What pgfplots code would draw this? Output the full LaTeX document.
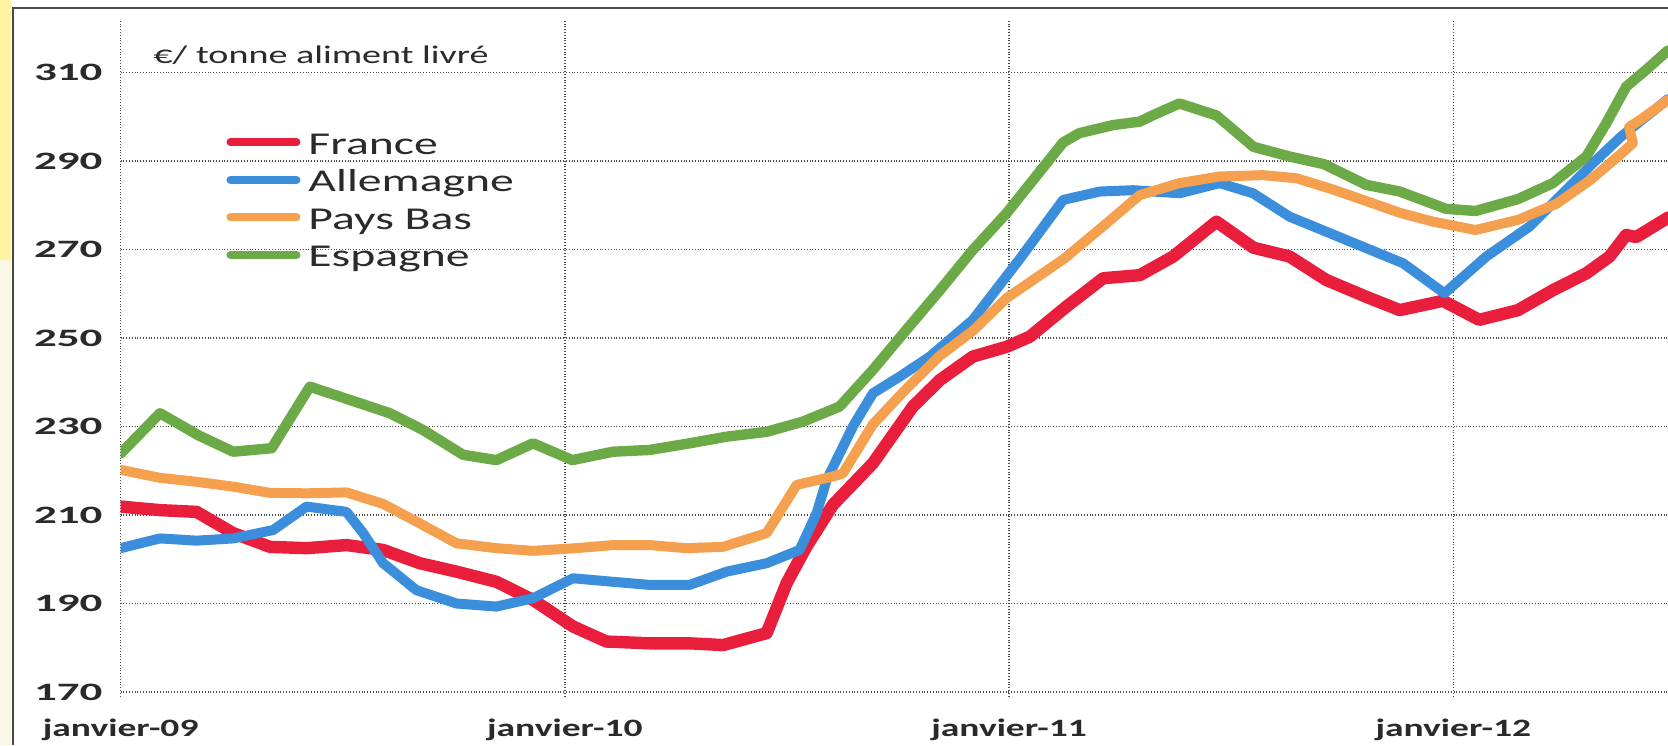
\documentclass[border=0pt]{standalone}
\usepackage{fontspec}
\setmainfont{Carlito}[FakeStretch=1.5]
\newfontfamily\ytickfont{Carlito}[FakeStretch=1.8]
\usepackage{pgfplots}
\pgfplotsset{compat=1.18}
\definecolor{cFR}{HTML}{E81E3C}
\definecolor{cDE}{HTML}{3B8EDB}
\definecolor{cNL}{HTML}{F5A04E}
\definecolor{cES}{HTML}{6BAA46}
\definecolor{gridc}{HTML}{4A4A4A}
\definecolor{txt}{HTML}{2A2A2A}
\begin{document}
\begin{tikzpicture}
\path[use as bounding box] (-60.35pt,-24.3pt) rectangle (773.65pt,348.2pt);
% scan frame and left strip
\fill[fill={rgb,255:red,255;green,244;blue,160}] (-60.35pt,218pt) rectangle (-54.6pt,348.2pt);
\fill[fill={rgb,255:red,250;green,246;blue,228}] (-60.35pt,-24.3pt) rectangle (-54.6pt,218pt);
\begin{axis}[
  at={(0,0)}, anchor=south west, scale only axis,
  width=773.65pt, height=338.5pt,
  xmin=0, xmax=41.8, ymin=169, ymax=322,
  axis line style={draw=none},
  major tick length=0pt,
  xtick={0,12,24,36},
  xticklabels={janvier-09,janvier-10,janvier-11,janvier-12},
  ytick={170,190,210,230,250,270,290,310},
  /pgf/number format/assume math mode=true,
  grid=major,
  major grid style={gridc, densely dotted, line width=0.7pt},
  yticklabel style={font=\ytickfont\bfseries\fontsize{12.5}{12.5}\selectfont, text=txt, xshift=-5.6pt},
  xticklabel style={font=\bfseries\fontsize{12.5}{12.5}\selectfont, text=txt, yshift=-7.5pt},
  no markers,
  every axis plot/.append style={line join=round, line cap=round},
  legend style={at={(0.0681,0.8340)}, anchor=north west, draw=none, fill=none,
    inner sep=0pt, row sep=4.3pt,
    font=\fontsize{15.9}{15.9}\selectfont, text=txt,
    nodes={inner sep=0pt, text height=11pt, text depth=3.5pt}},
  legend cell align=left,
  legend image code/.code={
    \draw[#1, line width=4pt, line cap=round] (2pt,2.2pt) -- (35pt,2.2pt);
    \path[draw=none, fill=none] (41pt,2.2pt);},
]
\addplot[cFR, line width=6.2pt] coordinates {
(0,211.9) (1.06,211.1) (2.05,210.7) (3.04,205.9) (4.03,202.8) (5.02,202.5)
(6.1,203.2) (7.09,202.1) (8.08,199.1) (9.07,197.2) (10.15,194.9) (11.14,190.8)
(12.22,184.8) (13.12,181.4) (14.29,181) (15.37,181) (16.27,180.6) (17.45,183.3)
(17.99,194.6) (18.52,202.8) (19.24,212.3) (20.32,221.7) (21.4,234.5) (22.13,240.5)
(23.02,245.8) (23.93,248) (24.56,250.3) (25.55,257.1) (26.54,263.5) (27.53,264.2)
(28.43,268.4) (29.6,276.3) (30.6,270.4) (31.58,268.4) (32.57,263.1) (33.65,259.3)
(34.55,256.3) (35.72,258.4) (36.7,254.1) (37.75,256.3) (38.69,260.8) (39.59,264.6)
(40.22,268.4) (40.67,273.3) (40.94,272.8) (41.8,277.2)
};
\addlegendentry{France}
\addplot[cDE, line width=5pt] coordinates {
(0,202.5) (1.06,204.7) (2.05,204.2) (3.04,204.7) (4.12,206.6) (5.02,211.9)
(6.1,210.7) (6.55,205.9) (7.09,199.1) (7.99,193) (9.07,190) (10.15,189.3)
(11.14,191.2) (12.22,195.7) (13.3,194.9) (14.29,194.2) (15.37,194.2) (16.37,197.2)
(17.45,199.1) (18.34,202.1) (18.8,210.4) (19.07,217.9) (19.78,230) (20.32,237.5)
(21.05,241.3) (21.86,245.8) (23.02,254.1) (24.3,268) (25.46,281.2) (26.45,283.1)
(27.35,283.4) (28.6,282.7) (29.69,285) (30.59,282.7) (31.58,277.4) (32.66,273.7)
(33.56,270.6) (34.64,266.9) (35.76,260.1) (36.89,268.4) (38.06,275.2) (38.96,282.7)
(39.77,289.5) (40.53,295.5) (41.8,304)
};
\addlegendentry{Allemagne}
\addplot[cNL, line width=5pt] coordinates {
(0,220.2) (1.06,218.4) (2.05,217.5) (3.04,216.4) (4.03,215) (5.02,214.9)
(6.1,215.1) (7.09,212.5) (8.08,208.1) (9.07,203.6) (10.15,202.5) (11.14,201.9)
(12.3,202.5) (13.3,203.2) (14.29,203.2) (15.28,202.5) (16.27,202.8) (17.45,205.9)
(18.26,216.8) (19.24,218.7) (19.51,219.4) (20.32,230.5) (21.22,238.5) (22.13,246)
(23.02,251.6) (23.93,259) (25.5,268) (26.63,275.9) (27.53,282.3) (28.6,285)
(29.69,286.5) (30.86,286.8) (31.76,286.1) (32.66,283.8) (33.56,281.2) (34.55,278.3)
(35.45,276.3) (36.6,274.4) (37.75,276.7) (38.8,280.4) (39.7,285.7) (40.5,291.4)
(40.85,294) (40.75,297.7) (41.05,299.3) (41.8,303.8)
};
\addlegendentry{Pays Bas}
\addplot[cES, line width=5.2pt] coordinates {
(0,223.9) (1.06,233) (2.1,228) (3.04,224.3) (4.08,225.1) (5.11,239)
(6.19,236) (7.27,233) (8.17,229.2) (9.25,223.6) (10.15,222.4) (11.14,226.2)
(12.2,222.4) (13.3,224.3) (14.29,224.7) (15.37,226.2) (16.37,227.7) (17.45,228.8)
(18.43,231.1) (19.42,234.5) (20.32,242.8) (21.22,251.8) (22.13,260.8) (23.02,269.9)
(23.93,278.2) (25.46,294.2) (25.9,296.3) (26.8,298.1) (27.53,298.9) (27.9,300.4)
(28.6,303) (29.6,300.3) (30.6,293.2) (31.58,291) (32.5,289.3) (33.65,284.6)
(34.55,283.1) (35.8,279.2) (36.6,278.7) (37.75,281.4) (38.69,285) (39.59,291)
(40.13,298.5) (40.67,306.8) (41.21,310.6) (41.8,315)
};
\addlegendentry{Espagne}
\end{axis}
\draw[gridc, line width=1pt] (-54.05pt,-24.3pt) -- (-54.05pt,344.2pt) -- (773.65pt,344.2pt);
\node[anchor=base west, inner sep=0pt, font=\fontsize{12.7}{12.7}\selectfont, text=txt]
  at (16.15pt,316.2pt) {€/ tonne aliment livré};
\end{tikzpicture}
\end{document}
